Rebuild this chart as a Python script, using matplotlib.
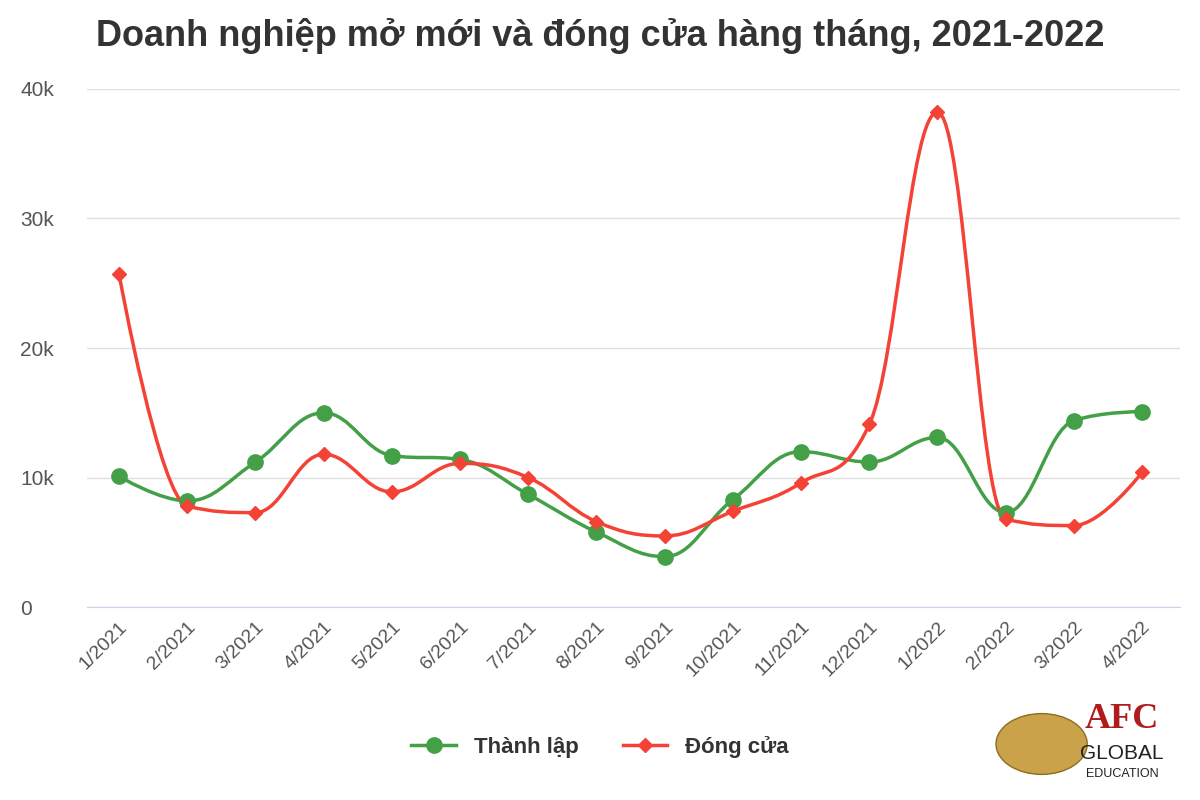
import numpy as np
import matplotlib
matplotlib.use('Agg')
import matplotlib.pyplot as plt
from matplotlib.path import Path as MPath
from matplotlib.patches import PathPatch, Circle

plt.rcParams['font.family'] = ['Liberation Sans', 'DejaVu Sans']

months = ['1/2021', '2/2021', '3/2021', '4/2021', '5/2021', '6/2021', '7/2021', '8/2021',
          '9/2021', '10/2021', '11/2021', '12/2021', '1/2022', '2/2022', '3/2022', '4/2022']
thanh_lap = [10100, 8200, 11200, 15000, 11700, 11400, 8700, 5800,
             3900, 8300, 12000, 11200, 13100, 7300, 14400, 15100]
dong_cua = [25700, 7800, 7300, 11800, 8900, 11100, 10000, 6600,
            5500, 7400, 9600, 14100, 38200, 6800, 6300, 10400]

GREEN = '#43a047'
RED = '#f44336'


def spline_path(x, y, smooth=1.5):
    # Highcharts-style spline with clamped control points
    n = len(x)

    def ctrl(j):
        if j == 0 or j == n - 1:
            return (x[j], y[j]), (x[j], y[j])
        d = smooth + 1
        lx = (smooth * x[j] + x[j - 1]) / d
        ly = (smooth * y[j] + y[j - 1]) / d
        rx = (smooth * x[j] + x[j + 1]) / d
        ry = (smooth * y[j] + y[j + 1]) / d
        corr = ((ry - ly) * (rx - x[j])) / (rx - lx) + y[j] - ry
        ly += corr
        ry += corr
        py, lasty, nexty = y[j], y[j - 1], y[j + 1]
        if ly > lasty and ly > py:
            ly = max(lasty, py); ry = 2 * py - ly
        elif ly < lasty and ly < py:
            ly = min(lasty, py); ry = 2 * py - ly
        if ry > nexty and ry > py:
            ry = max(nexty, py); ly = 2 * py - ry
        elif ry < nexty and ry < py:
            ry = min(nexty, py); ly = 2 * py - ry
        return (lx, ly), (rx, ry)

    verts = [(x[0], y[0])]
    codes = [MPath.MOVETO]
    for i in range(1, n):
        _, r_prev = ctrl(i - 1)
        l_cur, _ = ctrl(i)
        verts += [r_prev, l_cur, (x[i], y[i])]
        codes += [MPath.CURVE4] * 3
    return MPath(verts, codes)


fig = plt.figure(figsize=(12, 8), dpi=100)
ax = fig.add_axes([0.0725, 0.241, 0.9105, 0.648])
xs = np.arange(len(months))

for vals, col, mk, ms, lab in [(thanh_lap, GREEN, 'o', 11, 'Thành lập'),
                               (dong_cua, RED, 'D', 7, 'Đóng cửa')]:
    ax.add_patch(PathPatch(spline_path(xs, vals), fill=False, edgecolor=col, lw=2.5, zorder=3))
    ax.plot(xs, vals, linestyle='none', marker=mk, markersize=ms, color=col, zorder=4)
    ax.plot([], [], color=col, lw=2.5, marker=mk, markersize=ms, label=lab)

ax.set_xlim(-0.47, 15.55)
ax.set_ylim(0, 40000)
ax.set_yticks([0, 10000, 20000, 30000, 40000])
ax.set_yticklabels(['0', '10k', '20k', '30k', '40k'])
ax.set_xticks(xs)
ax.set_xticklabels(months, rotation=45, ha='right', rotation_mode='anchor')
ax.tick_params(axis='x', length=0, labelsize=14, colors='#555555', pad=8)
ax.tick_params(axis='y', length=0, labelsize=15, colors='#555555', pad=48)
ax.grid(axis='y', color='#e0e0e0', lw=1)
ax.set_axisbelow(True)
for s in ['top', 'right', 'left']:
    ax.spines[s].set_visible(False)
ax.spines['bottom'].set_color('#ccd6eb')
for lbl in ax.get_yticklabels():
    lbl.set_ha('left')

fig.text(0.5, 0.955, 'Doanh nghiệp mở mới và đóng cửa hàng tháng, 2021-2022',
         ha='center', va='center', fontsize=26, fontweight='bold', color='#333333')
leg = fig.legend(loc='center', bbox_to_anchor=(0.5, 0.066), ncol=2, frameon=False,
                 prop={'size': 16, 'weight': 'bold'}, handlelength=2, columnspacing=2)
for t in leg.get_texts():
    t.set_color('#333333')

# logo approximation
fig.patches.append(Circle((0.868, 0.07), 0.038, transform=fig.transFigure,
                          facecolor='#c9a24a', edgecolor='#8c6d1f'))
fig.text(0.935, 0.1, 'AFC', ha='center', va='center', fontsize=26, fontweight='bold',
         color='#b01c1c', family='Liberation Serif')
fig.text(0.935, 0.058, 'GLOBAL', ha='center', va='center', fontsize=15, color='#222222')
fig.text(0.935, 0.032, 'EDUCATION', ha='center', va='center', fontsize=9, color='#222222')

fig.savefig('out.png', dpi=100)
